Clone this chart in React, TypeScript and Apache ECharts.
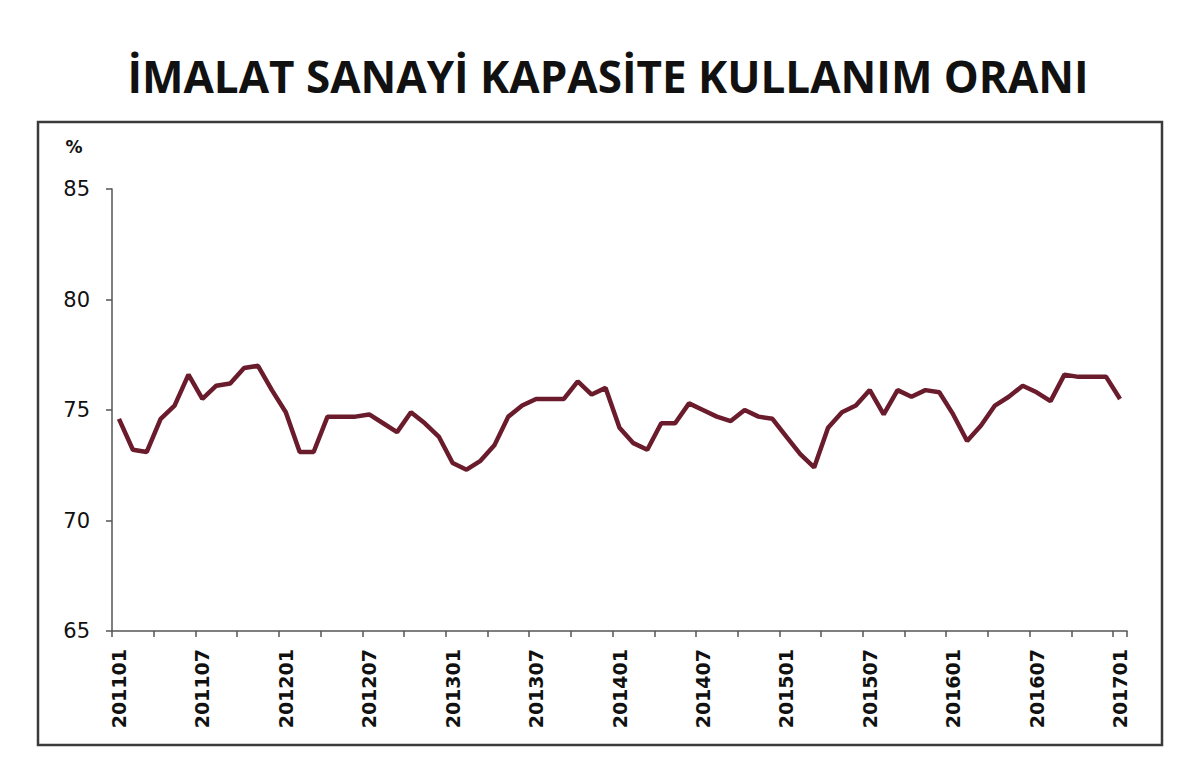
import React, { useEffect, useRef } from "react";
import * as echarts from "echarts";

// aylık kapasite kullanım oranı (%), 2011-01 .. 2017-01
const years = [2011, 2012, 2013, 2014, 2015, 2016, 2017];
const rate2011 = [74.6, 73.2, 73.1, 74.6, 75.2, 76.6, 75.5, 76.1, 76.2, 76.9, 77.0, 75.9];
const rate2012 = [74.9, 73.1, 73.1, 74.7, 74.7, 74.7, 74.8, 74.4, 74.0, 74.9, 74.4, 73.8];
const rate2013 = [72.6, 72.3, 72.7, 73.4, 74.7, 75.2, 75.5, 75.5, 75.5, 76.3, 75.7, 76.0];
const rate2014 = [74.2, 73.5, 73.2, 74.4, 74.4, 75.3, 75.0, 74.7, 74.5, 75.0, 74.7, 74.6];
const rate2015 = [73.8, 73.0, 72.4, 74.2, 74.9, 75.2, 75.9, 74.8, 75.9, 75.6, 75.9, 75.8];
const rate2016 = [74.8, 73.6, 74.3, 75.2, 75.6, 76.1, 75.8, 75.4, 76.6, 76.5, 76.5, 76.5];
const rate2017 = [75.5];

const yTicks = [65, 70, 75, 80, 85];

const rateByYear = [rate2011, rate2012, rate2013, rate2014, rate2015, rate2016, rate2017];

const months: string[] = [];
years.forEach((y, k) => {
  rateByYear[k].forEach((_, m) => {
    months.push(`${y}${String(m + 1).padStart(2, "0")}`);
  });
});
const rates = rateByYear.flat();

export default function App() {
  const chartRef = useRef<HTMLDivElement>(null);

  useEffect(() => {
    if (!chartRef.current) return;
    const chart = echarts.init(chartRef.current, null, { renderer: "svg" });

    const option: echarts.EChartsOption = {
      animation: false,
      backgroundColor: "#ffffff",
      grid: {
        left: 112,
        right: 73,
        top: 189,
        bottom: 135,
        containLabel: false,
      },
      graphic: [
        {
          type: "rect",
          shape: { x: 38, y: 122, width: 1124, height: 623 },
          style: { fill: "none", stroke: "#3b3b3b", lineWidth: 2.5 },
          z: -1,
        },
        {
          type: "text",
          x: 608,
          y: 76,
          style: {
            text: "İMALAT SANAYİ KAPASİTE KULLANIM ORANI",
            font: "bold 44px 'Open Sans'",
            fill: "#111111",
            align: "center",
            verticalAlign: "middle",
          },
        },
        {
          type: "text",
          x: 74,
          y: 147,
          style: {
            text: "%",
            font: "bold 17px 'DejaVu Sans'",
            fill: "#111111",
            align: "center",
            verticalAlign: "middle",
          },
        },
      ],
      xAxis: {
        type: "category",
        data: months,
        boundaryGap: true,
        axisLine: { lineStyle: { color: "#555555", width: 1.5 } },
        axisTick: {
          show: true,
          interval: 2,
          length: 6,
          alignWithLabel: false,
          lineStyle: { color: "#555555", width: 1.5 },
        },
        axisLabel: {
          interval: 5,
          rotate: 90,
          margin: 18,
          color: "#111111",
          fontFamily: "DejaVu Sans",
          fontWeight: "bold",
          fontSize: 19,
        },
        splitLine: { show: false },
      },
      yAxis: {
        type: "value",
        min: yTicks[0],
        max: yTicks[yTicks.length - 1],
        interval: 5,
        axisLine: { show: true, lineStyle: { color: "#555555", width: 1.5 } },
        axisTick: {
          show: true,
          length: 6,
          lineStyle: { color: "#555555", width: 1.5 },
        },
        axisLabel: {
          margin: 22,
          color: "#111111",
          fontFamily: "DejaVu Sans",
          fontSize: 21,
        },
        splitLine: { show: false },
      },
      series: [
        {
          type: "line",
          data: rates,
          symbol: "none",
          lineStyle: { color: "#6a1c2c", width: 4.5 },
        },
      ],
    };

    chart.setOption(option);

    return () => {
      chart.dispose();
    };
  }, []);

  return (
    <div
      ref={chartRef}
      style={{ position: "absolute", left: 0, top: 0, width: 1200, height: 766 }}
    />
  );
}
